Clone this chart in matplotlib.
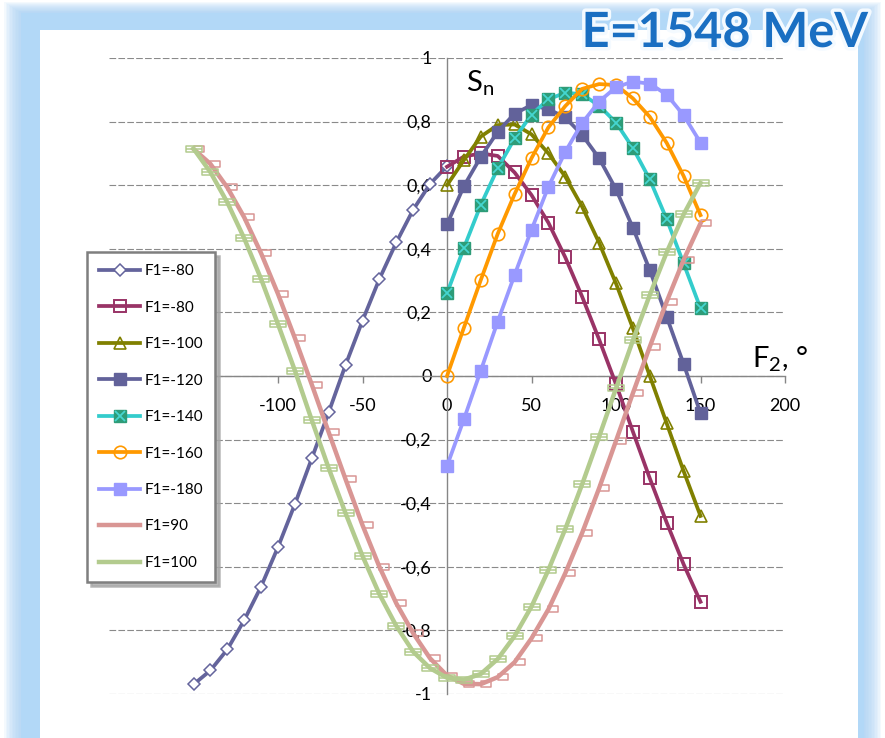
import matplotlib
matplotlib.use('Agg')
import matplotlib.pyplot as plt
import matplotlib.patheffects as pe
from matplotlib.path import Path
from matplotlib.lines import Line2D
from matplotlib.patches import Rectangle

plt.rcParams['font.family'] = ['Lato', 'DejaVu Sans']

# ---------------- data ----------------
x_left = list(range(-150, 1, 10))     # F1=-80 (diamonds)
x_right = list(range(0, 151, 10))     # F1=-80 (squares) ... F1=-180
x_full = list(range(-150, 151, 10))   # F1=90, F1=100

s_m80_diam = [-0.97, -0.926, -0.86, -0.768, -0.662, -0.538, -0.403, -0.259,
              -0.114, 0.035, 0.174, 0.305, 0.42, 0.523, 0.604, 0.66]
s_m80_sq = [0.658, 0.69, 0.70, 0.692, 0.64, 0.569, 0.482, 0.373, 0.249, 0.115,
            -0.026, -0.175, -0.322, -0.461, -0.592, -0.71]
s_m100 = [0.60, 0.679, 0.753, 0.789, 0.791, 0.76, 0.70, 0.627, 0.532, 0.419,
          0.291, 0.15, 0.0, -0.149, -0.299, -0.44]
s_m120 = [0.477, 0.597, 0.689, 0.768, 0.825, 0.852, 0.839, 0.813, 0.758, 0.685,
          0.587, 0.466, 0.333, 0.186, 0.038, -0.117]
s_m140 = [0.26, 0.403, 0.538, 0.653, 0.747, 0.822, 0.870, 0.891, 0.886, 0.85,
          0.797, 0.717, 0.618, 0.493, 0.354, 0.213]
s_m160 = [0.0, 0.152, 0.302, 0.447, 0.572, 0.685, 0.782, 0.849, 0.903, 0.918,
          0.915, 0.873, 0.815, 0.733, 0.629, 0.506]
s_m180 = [-0.283, -0.136, 0.017, 0.171, 0.318, 0.46, 0.595, 0.705, 0.796, 0.863,
          0.908, 0.926, 0.919, 0.885, 0.82, 0.734]
s_p90 = [0.714, 0.667, 0.593, 0.499, 0.386, 0.258, 0.119, -0.027, -0.177, -0.325,
         -0.469, -0.60, -0.715, -0.809, -0.888, -0.942, -0.968, -0.969, -0.947,
         -0.90, -0.825, -0.734, -0.62, -0.493, -0.353, -0.204, -0.054, 0.092,
         0.234, 0.365, 0.48]
s_p100 = [0.715, 0.641, 0.546, 0.433, 0.305, 0.163, 0.017, -0.139, -0.29, -0.432,
          -0.566, -0.686, -0.786, -0.867, -0.919, -0.949, -0.955, -0.937, -0.89,
          -0.818, -0.725, -0.61, -0.481, -0.34, -0.191, -0.039, 0.112, 0.255,
          0.389, 0.508, 0.607]

labels = ['F1=-80', 'F1=-80', 'F1=-100', 'F1=-120', 'F1=-140', 'F1=-160',
          'F1=-180', 'F1=90', 'F1=100']
xticks = [-200, -150, -100, -50, 0, 50, 100, 150, 200]
xtick_labels = ['', '', '-100', '-50', '0', '50', '100', '150', '200']
yticks = [-1, -0.8, -0.6, -0.4, -0.2, 0, 0.2, 0.4, 0.6, 0.8, 1]
ytick_labels = ['-1', '-0,8', '-0,6', '-0,4', '-0,2', '0', '0,2', '0,4', '0,6',
                '0,8', '1']
title = 'E=1548 MeV'

# ---------------- figure ----------------
W, H = 885, 738
fig = plt.figure(figsize=(W / 100, H / 100), dpi=100)
fig.patch.set_facecolor('white')

def fx(px):
    return px / W

def fy(py):
    return 1 - py / H

# background frame (light blue glow + white panel)
bg = fig.add_axes([0, 0, 1, 1], zorder=-10)
bg.set_xlim(0, W)
bg.set_ylim(H, 0)
bg.axis('off')
for i in range(12):
    ins = 4 + i * 1.5
    bg.add_patch(Rectangle((ins, ins * 0.6), W - 2 * ins, H, color='#a9d2f5',
                           alpha=0.12, lw=0))
bg.add_patch(Rectangle((21, 13), W - 42, H, color='#b2d8f7', lw=0))
bg.add_patch(Rectangle((40, 30), 858 - 40, H, color='white', lw=0))

# main axes
ax = fig.add_axes([fx(109), fy(694), (785 - 109) / W, (694 - 58) / H])
ax.patch.set_alpha(0)
ax.set_xlim(-200, 200)
ax.set_ylim(-1, 1)
for s in ['top', 'right']:
    ax.spines[s].set_visible(False)
ax.spines['left'].set_position(('data', 0))
ax.spines['bottom'].set_position(('data', 0))
for s in ['left', 'bottom']:
    ax.spines[s].set_color('#868686')
    ax.spines[s].set_linewidth(1.0)
    ax.spines[s].set_zorder(1)
ax.set_xticks(xticks)
ax.set_xticklabels(xtick_labels)
ax.set_yticks(yticks)
ax.set_yticklabels(ytick_labels)
ax.yaxis.grid(True, color='#8a8a8a', linestyle=(0, (6, 2)), linewidth=0.8)
ax.set_axisbelow(True)
ax.tick_params(axis='y', length=0, pad=11, labelsize=13)
ax.tick_params(axis='x', direction='out', length=5, width=1, color='#868686',
               pad=11, labelsize=13)

# custom markers
rect_off = Path([(-0.05, -0.32), (1, -0.32), (1, 0.32), (-0.05, 0.32), (0, 0)],
                [Path.MOVETO, Path.LINETO, Path.LINETO, Path.LINETO, Path.CLOSEPOLY])
rect_mid = Path([(-1, -0.45), (1, -0.45), (1, 0.45), (-1, 0.45), (0, 0),
                 (-1, 0), (1, 0)],
                [Path.MOVETO, Path.LINETO, Path.LINETO, Path.LINETO, Path.CLOSEPOLY,
                 Path.MOVETO, Path.LINETO])

c_diam = '#64649c'
c_sq = '#993366'
c_m100 = '#808000'
c_m120 = '#62629a'
c_m140 = '#33cccc'
c_m140_m = '#2e9c78'
c_m160 = '#ff9900'
c_m180 = '#9999ff'
c_p90 = '#d99694'
c_p100 = '#b3cb8e'

lw = 2.7
l1, = ax.plot(x_left, s_m80_diam, color=c_diam, lw=lw, marker='D', ms=6,
              mfc='white', mec=c_diam, mew=1.1)
l2, = ax.plot(x_right, s_m80_sq, color=c_sq, lw=lw, marker='s', ms=9,
              mfc='none', mec=c_sq, mew=1.4)
l3, = ax.plot(x_right, s_m100, color=c_m100, lw=lw, marker='^', ms=8,
              mfc='none', mec=c_m100, mew=1.2)
l4, = ax.plot(x_right, s_m120, color=c_m120, lw=lw, marker='s', ms=9,
              mfc=c_m120, mec=c_m120)
l5, = ax.plot(x_right, s_m140, color=c_m140, lw=lw, marker='s', ms=9,
              mfc=c_m140_m, mec=c_m140_m)
l5x, = ax.plot(x_right, s_m140, ls='none', marker='x', ms=6.5,
               mec='#45d6d0', mew=1.3)
l6, = ax.plot(x_right, s_m160, color=c_m160, lw=lw, marker='o', ms=9,
              mfc='none', mec=c_m160, mew=1.2)
l7, = ax.plot(x_right, s_m180, color=c_m180, lw=lw, marker='s', ms=9,
              mfc=c_m180, mec=c_m180)
l8, = ax.plot(x_full, s_p90, color=c_p90, lw=3.2, marker=rect_off, ms=14,
              mfc='none', mec=c_p90, mew=1.1)
l9, = ax.plot(x_full, s_p100, color=c_p100, lw=3.2, marker=rect_mid, ms=11,
              mfc='none', mec=c_p100, mew=1.1)

p8 = Line2D([], [], color=c_p90, lw=3.2)
p9 = Line2D([], [], color=c_p100, lw=3.2)

handles = [l1, l2, l3, l4, (l5, l5x), l6, l7, p8, p9]
leg = ax.legend(handles, labels, loc='upper left',
                bbox_to_anchor=(fx(87), fy(252)), bbox_transform=fig.transFigure,
                borderaxespad=0, frameon=True, fancybox=False,
                edgecolor='#7f7f7f', facecolor='white', framealpha=1,
                fontsize=11, handlelength=2.7, handletextpad=0.25,
                labelspacing=1.47, borderpad=0.8,
                shadow={'ox': 3, 'oy': -3, 'color': '#a6a6a6', 'alpha': 0.8})
leg.get_frame().set_linewidth(1.8)
leg.set_zorder(10)

# axis titles
ax.text(11, 0.895, r'S$_\mathregular{n}$', fontsize=21, ha='left',
        va='baseline')
ax.text(180.5, 0.029, r'F$_\mathregular{2}$, °', fontsize=21, ha='left',
        va='baseline')

# title
fig.text(fx(868), fy(47), title, ha='right', va='baseline', fontsize=35,
         fontweight='bold', color='#1a6fc2',
         path_effects=[pe.withStroke(linewidth=5, foreground='#f4faff')])

fig.savefig('out.png', dpi=100)
